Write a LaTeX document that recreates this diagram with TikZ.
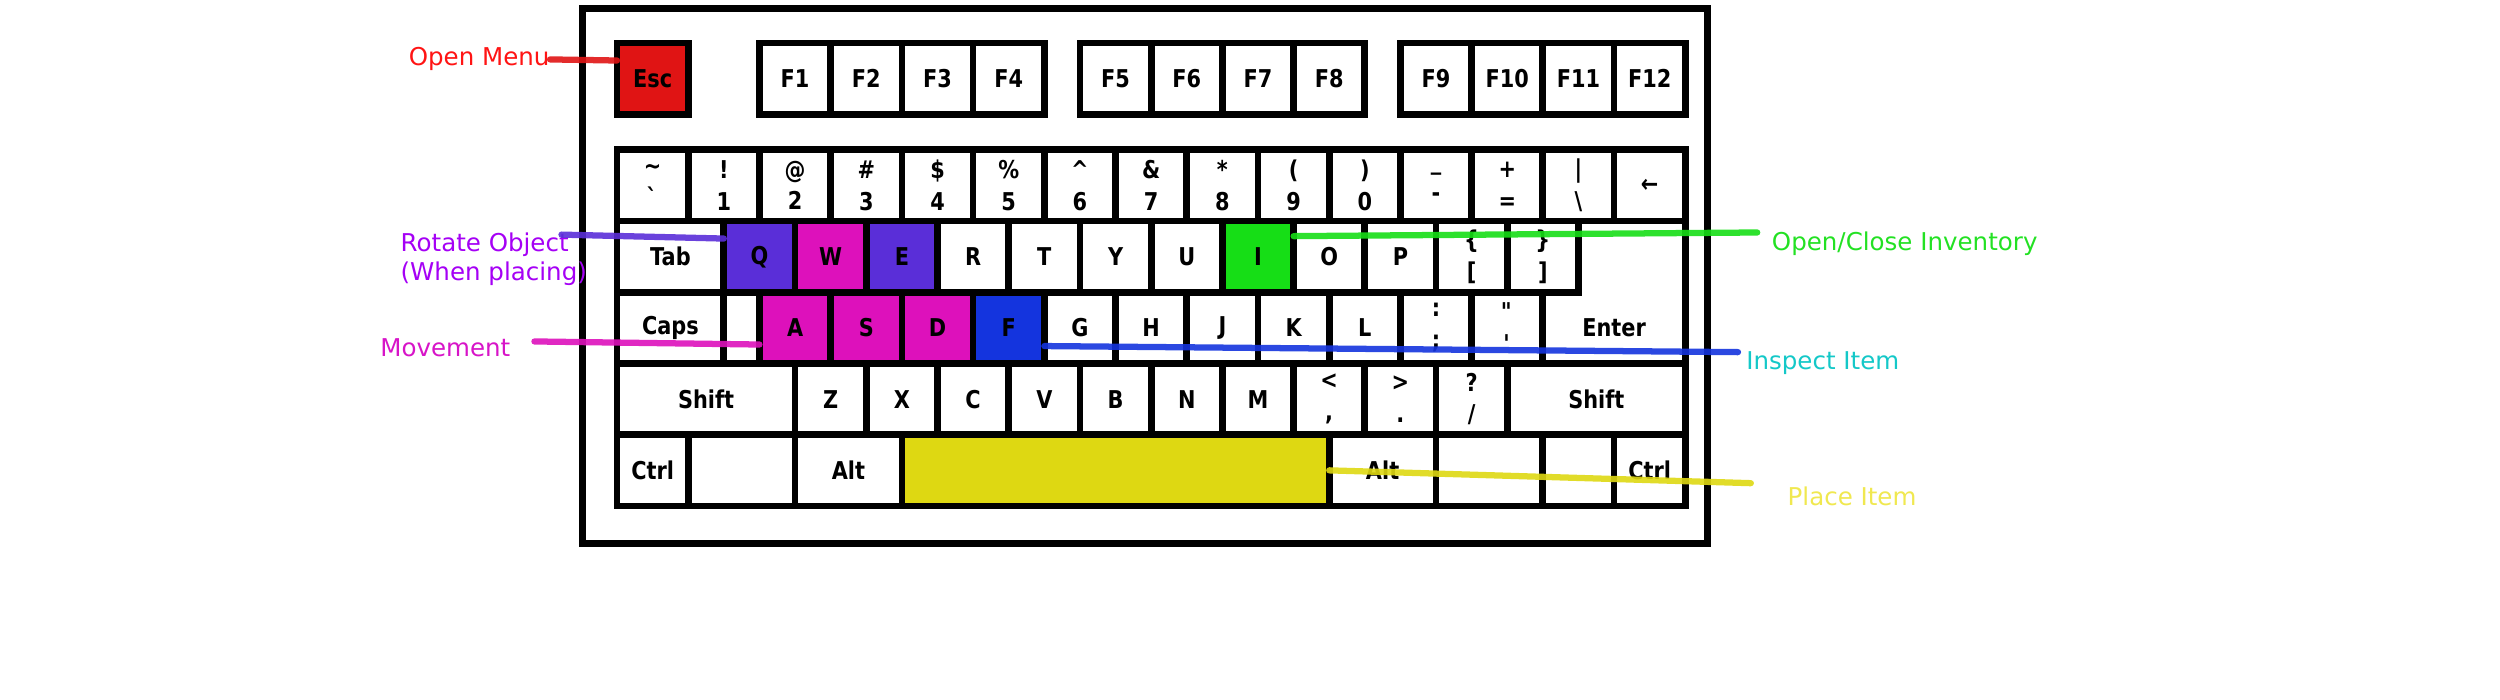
\documentclass[tikz,border=0pt]{standalone}
\usepackage{fontspec}
\setmainfont{DejaVu Sans}
\newfontfamily\keyfont{DejaVu Sans}[FakeStretch=0.85]
\usepackage{tikz}
\definecolor{escred}{RGB}{224,20,20}
\definecolor{rotpurple}{RGB}{90,46,216}
\definecolor{movemag}{RGB}{221,17,187}
\definecolor{inspblue}{RGB}{20,52,222}
\definecolor{invgreen}{RGB}{22,222,22}
\definecolor{placeyel}{RGB}{222,216,18}
\definecolor{menutext}{RGB}{255,20,20}
\definecolor{rottext}{RGB}{165,0,245}
\definecolor{movetext}{RGB}{215,20,200}
\definecolor{invtext}{RGB}{35,225,35}
\definecolor{insptext}{RGB}{20,200,200}
\definecolor{placetext}{RGB}{240,232,80}
\tikzset{
  keycap/.style={rectangle,draw=black,line width=2.7pt,minimum width=1cm,minimum height=1cm,
    inner sep=0pt,outer sep=0pt,align=center,font=\keyfont\bfseries\fontsize{9.8}{12.7}\selectfont},
  hint/.style={inner sep=0pt,font=\fontsize{9.8}{11.6}\selectfont},
  stroke/.style={line width=2.5pt,opacity=.9,line cap=round},
}
\newcommand{\keynode}{\node[keycap]}
\newcommand{\hintnode}{\node[hint]}

\begin{document}
\begin{tikzpicture}[x=1cm,y=-1cm]
          \useasboundingbox (-8.664,-0.6045) rectangle (26.440,9.224);
          \draw[line width=2.7pt] (-0.49,-0.49) rectangle (15.31,7.03); % case
          % function row
          \keynode[fill=escred] (kesc) at (0.5,0.5) {Esc};
          \keynode (kf1) at (2.5,0.5) {F1}; \keynode (kf2) at (3.5,0.5) {F2};
          \keynode (kf3) at (4.5,0.5) {F3}; \keynode (kf4) at (5.5,0.5) {F4};
          \keynode (kf5) at (7,0.5) {F5}; \keynode (kf6) at (8,0.5) {F6};
          \keynode (kf7) at (9,0.5) {F7}; \keynode (kf8) at (10,0.5) {F8};
          \keynode (kf9) at (11.5,0.5) {F9}; \keynode (kf10) at (12.5,0.5) {F10};
          \keynode (kf11) at (13.5,0.5) {F11}; \keynode (kf12) at (14.5,0.5) {F12};
          % number row
          \keynode (kgrave) at (0.5,2) {\textasciitilde\\\textasciigrave};
          \keynode (k1) at (1.5,2) {!\\1}; \keynode (k2) at (2.5,2) {@\\2};
          \keynode (k3) at (3.5,2) {\#\\3}; \keynode (k4) at (4.5,2) {\$\\4};
          \keynode (k5) at (5.5,2) {\%\\5}; \keynode (k6) at (6.5,2) {\textasciicircum\\6};
          \keynode (k7) at (7.5,2) {\&\\7}; \keynode (k8) at (8.5,2) {*\\8};
          \keynode (k9) at (9.5,2) {(\\9}; \keynode (k0) at (10.5,2) {)\\0};
          \keynode (kminus) at (11.5,2) {\_\\-}; \keynode (kequal) at (12.5,2) {+\\=};
          \keynode (kbslash) at (13.5,2) {|\\\textbackslash}; \keynode (kback) at (14.5,2) {←};
          % top letter row
          \keynode[minimum width=1.5cm] (ktab) at (0.75,3) {Tab};
          \keynode[fill=rotpurple] (kq) at (2,3) {Q};
          \keynode[fill=movemag] (kw) at (3,3) {W};
          \keynode[fill=rotpurple] (ke) at (4,3) {E};
          \keynode (kr) at (5,3) {R}; \keynode (kt) at (6,3) {T};
          \keynode (ky) at (7,3) {Y}; \keynode (ku) at (8,3) {U};
          \keynode[fill=invgreen] (ki) at (9,3) {I};
          \keynode (ko) at (10,3) {O}; \keynode (kp) at (11,3) {P};
          \keynode (klbrack) at (12,3) {\{\\{[}}; \keynode (krbrack) at (13,3) {\}\\{]}};
          % home row
          \keynode[minimum width=1.5cm] (kcaps) at (0.75,4) {Caps};
          \keynode[minimum width=0.5cm] (kgap) at (1.75,4) {};
          \keynode[fill=movemag] (ka) at (2.5,4) {A};
          \keynode[fill=movemag] (ks) at (3.5,4) {S};
          \keynode[fill=movemag] (kd) at (4.5,4) {D};
          \keynode[fill=inspblue] (kf) at (5.5,4) {F};
          \keynode (kg) at (6.5,4) {G}; \keynode (kh) at (7.5,4) {H};
          \keynode (kj) at (8.5,4) {J}; \keynode (kk) at (9.5,4) {K};
          \keynode (kl) at (10.5,4) {L}; \keynode (ksemi) at (11.5,4) {:\\;};
          \keynode (kquote) at (12.5,4) {\textquotedbl\\\textquotesingle};
          \draw[line width=2.7pt] (13.5,2.5) -- (15,2.5) -- (15,4.5) -- (13,4.5) -- (13,3.5) -- (13.5,3.5) -- cycle;
          \keynode[draw=none] (kenter) at (14,4) {Enter};
          % bottom letter row
          \keynode[minimum width=2.5cm] (klshift) at (1.25,5) {Shift};
          \keynode (kz) at (3,5) {Z}; \keynode (kx) at (4,5) {X};
          \keynode (kc) at (5,5) {C}; \keynode (kv) at (6,5) {V};
          \keynode (kb) at (7,5) {B}; \keynode (kn) at (8,5) {N};
          \keynode (km) at (9,5) {M}; \keynode (kcomma) at (10,5) {<\\,};
          \keynode (kdot) at (11,5) {>\\.}; \keynode (kslash) at (12,5) {?\\/};
          \keynode[minimum width=2.5cm] (krshift) at (13.75,5) {Shift};
          % space row
          \keynode (klctrl) at (0.5,6) {Ctrl};
          \keynode[minimum width=1.5cm] (klwin) at (1.75,6) {};
          \keynode[minimum width=1.5cm] (klalt) at (3.25,6) {Alt};
          \keynode[minimum width=6cm,fill=placeyel] (kspace) at (7,6) {};
          \keynode[minimum width=1.5cm] (kralt) at (10.75,6) {Alt};
          \keynode[minimum width=1.5cm] (krwin) at (12.25,6) {};
          \keynode (kmenu) at (13.5,6) {};
          \keynode (krctrl) at (14.5,6) {Ctrl};
          % labels
          \hintnode[anchor=west,text=menutext] (menu) at (-2.93,0.23) {Open Menu};
          \hintnode[anchor=west,align=left,text=rottext] (rotate) at (-3.045,3.03) {Rotate Object\\(When placing)};
          \hintnode[anchor=west,text=movetext] (move) at (-3.33,4.28) {Movement};
          \hintnode[anchor=west,text=invtext] (inv) at (16.21,2.82) {Open/Close Inventory};
          \hintnode[anchor=west,text=insptext] (inspect) at (15.85,4.49) {Inspect Item};
          \hintnode[anchor=west,text=placetext] (place) at (16.43,6.36) {Place Item};
          \coordinate (rotate0) at (-0.78,2.69);
          \coordinate (move0) at (-1.16,4.19);
          \coordinate (inv0) at (16.01,2.66);
          \coordinate (inspect0) at (15.74,4.34);
          \coordinate (place0) at (15.92,6.18);
          % connectors
          \draw[stroke,draw=escred] (menu.east) -- (kesc.153);
          \draw[stroke,draw=rotpurple] (rotate0) -- (kq.153);
          \draw[stroke,draw=movemag] (move0) -- (ka.205);
          \draw[stroke,draw=invgreen] (ki.30) -- (inv0);
          \draw[stroke,draw=inspblue] (kf.-27) -- (inspect0);
          \draw[stroke,draw=placeyel] (kspace.east) -- (place0);
\end{tikzpicture}
\end{document}
